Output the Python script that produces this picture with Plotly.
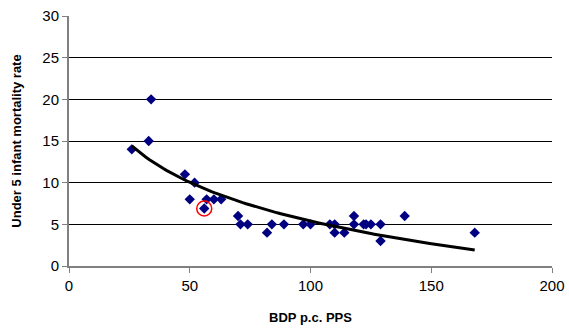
import numpy as np
import plotly.graph_objects as go

# GDP per capita (PPS) and under-5 infant mortality rate
gdp = [26, 34, 33, 48, 52, 50, 57, 56, 60, 63, 70, 71, 74, 82, 84, 89, 97, 100,
       108, 110, 110, 114, 118, 118, 122, 123, 125, 129, 129, 139, 168]
mortality = [14, 20, 15, 11, 10, 8, 8, 6.9, 8, 8, 6, 5, 5, 4, 5, 5, 5, 5,
             5, 5, 4, 4, 6, 5, 5, 5, 5, 5, 3, 6, 4]
highlight_index = 7  # the circled country

x_ticks = [0, 50, 100, 150, 200]
y_ticks = [0, 5, 10, 15, 20, 25, 30]

# logarithmic trend line fitted to the data
xa = np.array(gdp, dtype=float)
ya = np.array(mortality, dtype=float)
b, a = np.polyfit(np.log(xa), ya, 1)
tx = np.linspace(xa.min(), xa.max(), 100)
ty = a + b * np.log(tx)

fig = go.Figure()
fig.add_trace(go.Scatter(x=gdp, y=mortality, mode="markers",
                         marker=dict(symbol="diamond", size=8, color="#000080"),
                         showlegend=False))
fig.add_trace(go.Scatter(x=tx, y=ty, mode="lines",
                         line=dict(color="black", width=3), showlegend=False))
fig.add_trace(go.Scatter(x=[gdp[highlight_index]], y=[mortality[highlight_index]],
                         mode="markers",
                         marker=dict(symbol="circle-open", size=15,
                                     line=dict(color="red", width=1.5), color="red"),
                         showlegend=False))

axis_font = dict(family="Liberation Sans, Arial, sans-serif", size=15, color="black")
title_font = dict(family="Liberation Sans, Arial, sans-serif", size=13, color="black")

fig.update_layout(
    width=569, height=335,
    margin=dict(l=69, r=17, t=16, b=69),
    paper_bgcolor="white", plot_bgcolor="white",
    xaxis=dict(range=[0, 200], tickvals=x_ticks, showgrid=False, zeroline=False,
               automargin=False,
               showline=True, linecolor="#808080", linewidth=2,
               ticks="outside", ticklen=5, tickcolor="#808080",
               tickfont=axis_font,
               title=dict(text="<b>BDP p.c. PPS</b>", font=title_font, standoff=20)),
    yaxis=dict(range=[0, 30], tickvals=y_ticks, showgrid=True, gridcolor="black",
               gridwidth=1, zeroline=False, automargin=False,
               showline=True, linecolor="#808080", linewidth=2,
               ticks="outside", ticklen=5, tickcolor="#808080",
               tickfont=axis_font,
               title=dict(text="<b>Under 5 infant mortality rate</b>", font=title_font,
                          standoff=18)),
)

fig.write_html("out.html", config={"displayModeBar": False},
               post_script="document.body.style.margin='0';")
